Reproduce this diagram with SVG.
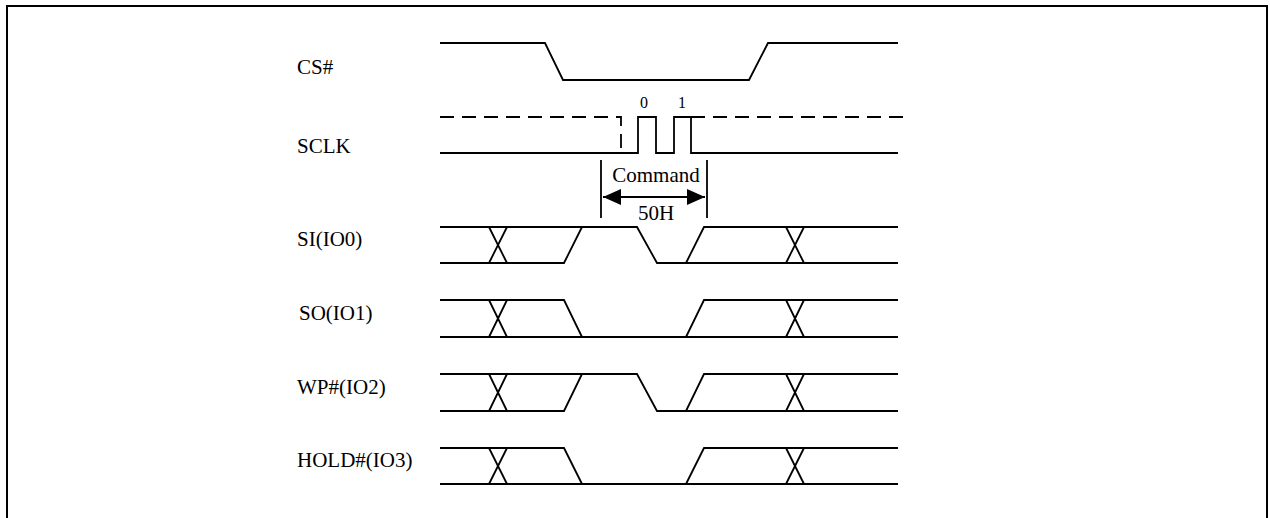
<svg xmlns="http://www.w3.org/2000/svg" width="1270" height="518" viewBox="0 0 1270 518">
<style>
.sig{fill:none;stroke:#000;stroke-width:1.8;stroke-linejoin:miter}
.dash{fill:none;stroke:#000;stroke-width:1.8;stroke-dasharray:14 8}
.lbl{font-family:"Liberation Serif","Times New Roman",serif;font-size:21px;fill:#000}
.small{font-family:"Liberation Serif","Times New Roman",serif;font-size:16px;fill:#000}
</style>
<defs>
<marker id="ah" viewBox="0 0 18 16" refX="18" refY="8" markerWidth="18" markerHeight="16" markerUnits="userSpaceOnUse" orient="auto-start-reverse">
<path d="M0,0 L18,8 L0,16 Z" fill="#000"/>
</marker>
</defs>
<rect x="7" y="6" width="1260" height="530" fill="#fff" stroke="#000" stroke-width="2"/>
<g id="labels">
<text class="lbl" x="297" y="74">CS#</text>
<text class="lbl" x="297" y="153">SCLK</text>
<text class="lbl" x="297" y="246">SI(IO0)</text>
<text class="lbl" x="299" y="320">SO(IO1)</text>
<text class="lbl" x="297" y="394">WP#(IO2)</text>
<text class="lbl" x="297" y="467">HOLD#(IO3)</text>
</g>
<g id="cs">
<polyline class="sig" points="440,43 545,43 563,80 749,80 768,43 898,43"/>
</g>
<g id="sclk">
<path class="dash" d="M440,117 H621 V153"/>
<polyline class="sig" points="440,153 638,153 638,117 656,117 656,153 674,153 674,117 691,117 691,153 898,153"/>
<path class="dash" d="M691,117 H905"/>
<text class="small" x="644" y="108" text-anchor="middle">0</text>
<text class="small" x="682" y="108" text-anchor="middle">1</text>
</g>
<g id="command">
<line class="sig" x1="601" y1="160" x2="601" y2="218"/>
<line class="sig" x1="707" y1="160" x2="707" y2="218"/>
<line class="sig" x1="603" y1="197" x2="705" y2="197" marker-start="url(#ah)" marker-end="url(#ah)"/>
<text class="lbl" x="656" y="182" text-anchor="middle">Command</text>
<text class="lbl" x="656" y="220" text-anchor="middle">50H</text>
</g>
<g id="si">
<polyline class="sig" points="440,227 637,227 657,263 898,263"/>
<polyline class="sig" points="440,263 564,263 582,227"/>
<polyline class="sig" points="686,263 704,227 898,227"/>
<path class="sig" d="M489,227 L507,263 M489,263 L507,227 M786,227 L804,263 M786,263 L804,227"/>
</g>
<g id="so">
<polyline class="sig" points="440,300 564,300 582,337"/>
<polyline class="sig" points="440,337 898,337"/>
<polyline class="sig" points="686,337 704,300 898,300"/>
<path class="sig" d="M489,300 L507,337 M489,337 L507,300 M786,300 L804,337 M786,337 L804,300"/>
</g>
<g id="wp">
<polyline class="sig" points="440,374 637,374 657,411 898,411"/>
<polyline class="sig" points="440,411 564,411 582,374"/>
<polyline class="sig" points="686,411 704,374 898,374"/>
<path class="sig" d="M489,374 L507,411 M489,411 L507,374 M786,374 L804,411 M786,411 L804,374"/>
</g>
<g id="hold">
<polyline class="sig" points="440,448 564,448 582,484"/>
<polyline class="sig" points="440,484 898,484"/>
<polyline class="sig" points="686,484 704,448 898,448"/>
<path class="sig" d="M489,448 L507,484 M489,484 L507,448 M786,448 L804,484 M786,484 L804,448"/>
</g>
</svg>
